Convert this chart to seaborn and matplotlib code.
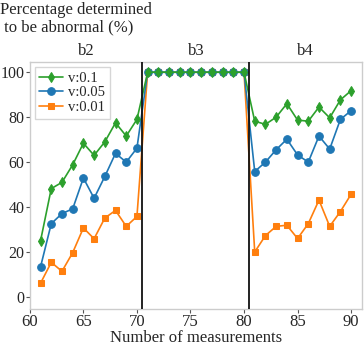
import numpy as np
import pandas as pd
import matplotlib
matplotlib.use("Agg")
import matplotlib.pyplot as plt
import seaborn as sns

# measurements 61..90
measurements = list(range(61, 91))

v01 = [25, 48.2, 51, 58.8, 68.4, 63, 69, 77.5, 71.6, 79,
       100, 100, 100, 100, 100, 100, 100, 100, 100, 100,
       78.2, 76.8, 80, 86, 78.7, 78.2, 84.5, 79.7, 87.7, 91.8]
v005 = [13.4, 32.6, 37.1, 39.2, 52.9, 43.9, 53.6, 63.9, 60, 66.2,
        100, 100, 100, 100, 100, 100, 100, 100, 100, 100,
        55.8, 60, 65.5, 70.2, 63.2, 60, 71.6, 65.8, 79, 82.9]
v001 = [6.1, 15.4, 11.4, 19.7, 30.7, 25.9, 35.1, 38.5, 31.4, 35.8,
        100, 100, 100, 100, 100, 100, 100, 100, 100, 100,
        20, 27.3, 31.4, 31.9, 26, 32.6, 43.1, 31.4, 38, 45.7]

series_labels = ['v:0.1', 'v:0.05', 'v:0.01']
section_labels = ['b2', 'b3', 'b4']
section_centers = [65.25, 75.5, 85.75]
boundaries = [70.5, 80.5]

df = pd.DataFrame({
    'n': measurements * 3,
    'pct': v01 + v005 + v001,
    'series': [series_labels[0]] * 30 + [series_labels[1]] * 30 + [series_labels[2]] * 30,
})

sns.set_style('white')
plt.rcParams['font.family'] = ['Liberation Serif', 'DejaVu Serif']
plt.rcParams['font.size'] = 12

fig = plt.figure(figsize=(3.64, 3.47), dpi=100)
ax = fig.add_axes([0.082, 0.11, 0.912, 0.711])

styles = {
    'v:0.01': ('#ff7f0e', 's', 5),
    'v:0.05': ('#1f77b4', 'o', 5.5),
    'v:0.1': ('#2ca02c', 'd', 5.5),
}
for lab in ['v:0.01', 'v:0.05', 'v:0.1']:
    col, mk, ms = styles[lab]
    sub = df[df['series'] == lab]
    sns.lineplot(data=sub, x='n', y='pct', color=col, marker=mk, markersize=ms,
                 markeredgecolor=col, linewidth=1.2, ax=ax, label=lab)

h, l = ax.get_legend_handles_labels()
order = [l.index(s) for s in series_labels]
ax.legend([h[i] for i in order], series_labels, loc='upper left',
          fontsize=10.5, frameon=True, handlelength=1.6, handletextpad=0.4,
          borderpad=0.3, labelspacing=0.1, borderaxespad=0.35,
          edgecolor='#cccccc', fancybox=False)

for b in boundaries:
    ax.axvline(b, color='#111111', linewidth=1.3, zorder=5)

ax.set_xlim(60, 91)
ax.set_ylim(-5.3, 104.5)
ax.set_xticks([60, 65, 70, 75, 80, 85, 90])
ax.set_yticks([0, 20, 40, 60, 80, 100])
ax.tick_params(axis='both', direction='out', length=3, width=0.8,
               labelsize=12, pad=1, color='#555555', left=True, bottom=True)
ax.tick_params(axis='y', labelsize=11.5, pad=1)
for sp in ax.spines.values():
    sp.set_color('#cccccc')
    sp.set_linewidth(1)
ax.set_xlabel('Number of measurements', fontsize=12, labelpad=0)
ax.set_ylabel('')

for lab, cx in zip(section_labels, section_centers):
    ax.text(cx, 106, lab, ha='center', va='bottom', fontsize=12,
            transform=ax.transData, clip_on=False)

fig.text(0.0, 0.995, 'Percentage determined\n to be abnormal (%)', ha='left',
         va='top', fontsize=12, linespacing=1.1)

fig.savefig('out.png', dpi=100)
